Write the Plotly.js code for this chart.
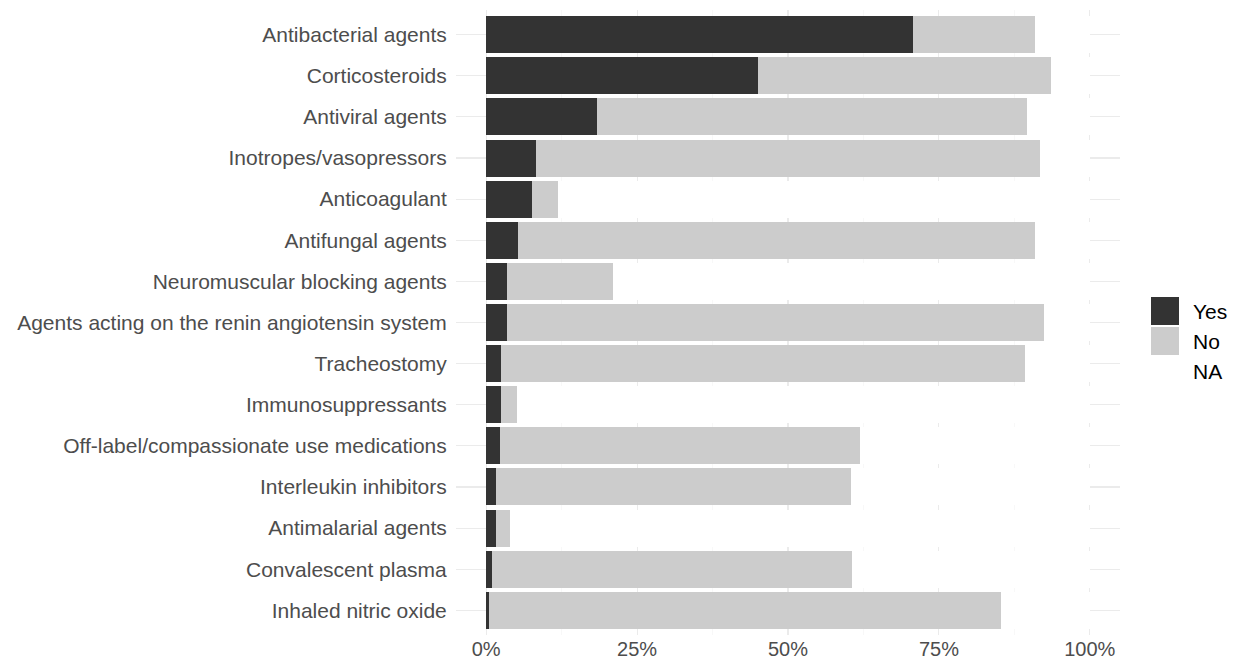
<!DOCTYPE html>
<html>
<head>
<meta charset="utf-8">
<script src="https://cdn.plot.ly/plotly-3.0.1.min.js"></script>
<style>html,body{margin:0;padding:0;background:#fff;}#chart{width:1238px;height:662px;}</style>
</head>
<body>
<div id="chart"></div>
<script>
const categories = ["Antibacterial agents","Corticosteroids","Antiviral agents","Inotropes/vasopressors","Anticoagulant","Antifungal agents","Neuromuscular blocking agents","Agents acting on the renin angiotensin system","Tracheostomy","Immunosuppressants","Off-label/compassionate use medications","Interleukin inhibitors","Antimalarial agents","Convalescent plasma","Inhaled nitric oxide"];
const yesPct = [70.7, 45.0, 18.4, 8.3, 7.6, 5.2, 3.5, 3.4, 2.5, 2.5, 2.3, 1.7, 1.6, 1.0, 0.4];
const noPct  = [20.2, 48.5, 71.2, 83.4, 4.3, 85.8, 17.5, 89.0, 86.8, 2.6, 59.6, 58.8, 2.4, 59.6, 84.9];
const naPct  = [9.1, 6.5, 10.4, 8.3, 88.1, 9.0, 79.0, 7.6, 10.7, 94.9, 38.1, 39.5, 96.0, 39.4, 14.7];
const xTickVals = [0, 25, 50, 75, 100];
const xTickLabels = ["0%", "25%", "50%", "75%", "100%"];
const seriesNames = ["Yes", "No", "NA"];
const seriesColors = ["#333333", "#cccccc", "#ffffff"];

const seriesData = [yesPct, noPct, naPct];
const traces = seriesNames.map((n, i) => ({
  type: 'bar', orientation: 'h', name: n,
  x: seriesData[i], y: categories,
  marker: {color: seriesColors[i], line: {width: 0}},
  hoverinfo: 'x+y+name', showlegend: false
}));

const font = "'Liberation Sans', Arial, sans-serif";
// legend drawn in paper coordinates
const shapes = [];
const annotations = [];
const legY = [0.5184, 0.4704, 0.4224];
seriesNames.forEach((n, i) => {
  if (i < 2) {
    shapes.push({type: 'rect', xref: 'paper', yref: 'paper',
      x0: 1.0467, x1: 1.0889, y0: legY[i] - 0.0224, y1: legY[i] + 0.0224,
      fillcolor: seriesColors[i], line: {width: 0}});
  }
  annotations.push({xref: 'paper', yref: 'paper', x: 1.107, y: legY[i],
    xanchor: 'left', yanchor: 'middle', showarrow: false, text: n,
    font: {family: font, size: 21, color: '#000000'}});
});

const layout = {
  width: 1238, height: 662,
  margin: {l: 456, r: 118, t: 10, b: 27, pad: 0},
  paper_bgcolor: '#ffffff', plot_bgcolor: '#ffffff',
  barmode: 'stack', bargap: 0.1,
  showlegend: false,
  font: {family: font, size: 21, color: '#4d4d4d'},
  xaxis: {
    range: [-5, 105], tickvals: xTickVals, ticktext: xTickLabels,
    showgrid: true, gridcolor: '#ebebeb', gridwidth: 1.1,
    zeroline: false, showline: false,
    ticks: '', ticklen: 0,
    tickfont: {family: font, size: 20, color: '#4d4d4d'},
    minor: {tickvals: [12.5, 37.5, 62.5, 87.5], showgrid: true, gridcolor: '#f4f4f4', gridwidth: 0.6, ticks: ''},
    fixedrange: true
  },
  yaxis: {
    type: 'category', categoryorder: 'array', categoryarray: categories,
    range: [14.6, -0.6],
    showgrid: true, gridcolor: '#ebebeb', gridwidth: 1.1,
    zeroline: false, showline: false,
    ticks: 'outside', ticklen: 4, tickcolor: 'rgba(0,0,0,0)',
    tickfont: {family: font, size: 21, color: '#4d4d4d'},
    fixedrange: true
  },
  shapes: shapes,
  annotations: annotations
};

Plotly.newPlot('chart', traces, layout, {displayModeBar: false, staticPlot: true});
</script>
</body>
</html>
